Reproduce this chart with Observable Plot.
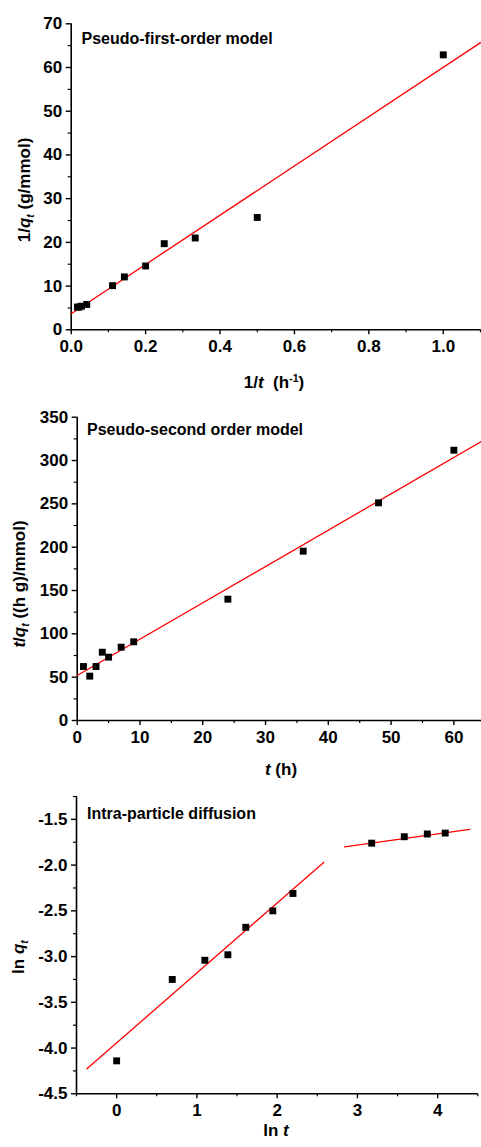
<!DOCTYPE html>
<html><head><meta charset="utf-8">
<script src="https://cdn.jsdelivr.net/npm/d3@7"></script>
<script src="https://cdn.jsdelivr.net/npm/@observablehq/plot@0.6"></script>
<style>
html,body{margin:0;padding:0;background:#fff;}
#chart{width:481px;}
#chart svg{display:block;}
</style></head><body><div id="chart"></div>
<script>
// ---------- Panel 1: Pseudo-first-order ----------
const p1Title = "Pseudo-first-order model";
const p1InvT = [1.0, 0.5, 0.3333, 0.25, 0.2, 0.1429, 0.1111, 0.0417, 0.0278, 0.0208, 0.0167];
const p1InvQ = [62.9, 25.7, 21.0, 19.7, 14.6, 12.1, 10.1, 5.8, 5.4, 5.2, 5.2];
const p1FitX = [0, 1.1];
const p1FitY = [3.66, 65.7];
const p1XMajor = [0, 0.2, 0.4, 0.6, 0.8, 1.0];
const p1XMinor = [0.1, 0.3, 0.5, 0.7, 0.9, 1.1];
const p1YMajor = [0, 10, 20, 30, 40, 50, 60, 70];
const p1YMinor = [5, 15, 25, 35, 45, 55, 65];

// ---------- Panel 2: Pseudo-second order ----------
const p2Title = "Pseudo-second order model";
const p2T = [1, 2, 3, 4, 5, 7, 9, 24, 36, 48, 60];
const p2TQ = [62.3, 51.2, 62.3, 78.8, 73.1, 84.6, 90.8, 140, 195.4, 251.2, 311.9];
const p2FitX = [0, 64.4];
const p2FitY = [51.9, 322];
const p2XMajor = [0, 10, 20, 30, 40, 50, 60];
const p2XMinor = [5, 15, 25, 35, 45, 55];
const p2YMajor = [0, 50, 100, 150, 200, 250, 300, 350];
const p2YMinor = [25, 75, 125, 175, 225, 275, 325];

// ---------- Panel 3: Intra-particle diffusion ----------
const p3Title = "Intra-particle diffusion";
const p3LnT = [0, 0.693, 1.099, 1.386, 1.609, 1.946, 2.197, 3.178, 3.584, 3.871, 4.094];
const p3LnQ = [-4.14, -3.25, -3.04, -2.98, -2.68, -2.50, -2.31, -1.76, -1.69, -1.66, -1.65];
const p3FitSeg = ["first", "first", "second", "second"];
const p3FitX = [-0.37, 2.58, 2.84, 4.40];
const p3FitY = [-4.226, -1.971, -1.80, -1.61];
const p3XMajor = [0, 1, 2, 3, 4];
const p3XMinor = [-0.5, 0.5, 1.5, 2.5, 3.5, 4.5];
const p3YMajor = [-4.5, -4.0, -3.5, -3.0, -2.5, -2.0, -1.5];
const p3YMinor = [-4.25, -3.75, -3.25, -2.75, -2.25, -1.75, -1.25];

const FONT = "'Liberation Sans', Arial, Helvetica, sans-serif";

function richText(svg, parts, {x, y, rotate = 0, anchor = "middle", size = 17}) {
  const g = d3.select(svg).append("g")
    .attr("transform", `translate(${x},${y}) rotate(${rotate})`);
  const t = g.append("text")
    .attr("text-anchor", anchor)
    .attr("font-family", FONT)
    .attr("font-weight", "bold")
    .attr("font-size", size)
    .attr("fill", "black");
  let shift = 0;
  for (const p of parts) {
    const s = t.append("tspan").text(p.t);
    if (p.it) s.attr("font-style", "italic");
    let target = p.sub ? 4 : p.sup ? -6 : 0;
    if (target !== shift) { s.attr("dy", target - shift); shift = target; }
    if (p.sub || p.sup) s.attr("font-size", size * 0.62);
  }
}

function panel(o) {
  const pts = o.xs.map((x, i) => ({x, y: o.ys[i]}));
  const fit = o.fitX.map((x, i) => ({x, y: o.fitY[i], z: o.fitZ ? o.fitZ[i] : "a"}));
  const svg = Plot.plot({
    width: 481,
    height: o.height,
    marginTop: o.mt, marginBottom: o.mb, marginLeft: o.ml, marginRight: o.mr,
    style: {fontFamily: FONT, fontSize: "17px", fontWeight: "bold", color: "black", background: "white", overflow: "visible"},
    x: {domain: o.xDomain},
    y: {domain: o.yDomain},
    marks: [
      Plot.axisX(o.xMajor, {tickSize: 5, tickPadding: 5, tickFormat: o.xFmt, label: null, strokeWidth: 1.4}),
      Plot.axisX(o.xMinor, {tickSize: 3, tickFormat: () => "", label: null, strokeWidth: 1.2}),
      Plot.axisY(o.yMajor, {tickSize: 5, tickPadding: 4, tickFormat: o.yFmt, label: null, strokeWidth: 1.4}),
      Plot.axisY(o.yMinor, {tickSize: 3, tickFormat: () => "", label: null, strokeWidth: 1.2}),
      Plot.ruleX([o.xDomain[0]], {stroke: "black", strokeWidth: 1.6}),
      Plot.ruleY([o.yDomain[0]], {stroke: "black", strokeWidth: 1.6}),
      Plot.line(fit, {x: "x", y: "y", z: "z", stroke: "#ff0000", strokeWidth: 1.3}),
      Plot.dot(pts, {x: "x", y: "y", symbol: "square", r: 3.9, fill: "black", stroke: null})
    ]
  });
  // title
  d3.select(svg).append("text")
    .attr("x", o.titlePos[0]).attr("y", o.titlePos[1])
    .attr("text-anchor", "start")
    .attr("font-family", FONT).attr("font-weight", "bold").attr("font-size", 16)
    .attr("fill", "black").text(o.title);
  richText(svg, o.yLabel, {x: o.yLabelPos[0], y: o.yLabelPos[1], rotate: -90});
  richText(svg, o.xLabel, {x: o.xLabelPos[0], y: o.xLabelPos[1]});
  document.getElementById("chart").appendChild(svg);
}

const f1 = d => d.toFixed(1);

panel({
  height: 395, mt: 23.3, mb: 65.7, ml: 70.7, mr: 1,
  xDomain: [0, 1.1], yDomain: [0, 70],
  xs: p1InvT, ys: p1InvQ, fitX: p1FitX, fitY: p1FitY,
  xMajor: p1XMajor, xMinor: p1XMinor, yMajor: p1YMajor, yMinor: p1YMinor,
  xFmt: f1, yFmt: d => String(d),
  title: p1Title, titlePos: [81.5, 43.5],
  yLabel: [{t: "1/"}, {t: "q", it: true}, {t: "t", it: true, sub: true}, {t: " (g/mmol)"}],
  yLabelPos: [30, 190],
  xLabel: [{t: "1/"}, {t: "t", it: true}, {t: "  (h"}, {t: "-1", sup: true}, {t: ")"}],
  xLabelPos: [274, 388]
});

panel({
  height: 385, mt: 21.7, mb: 60, ml: 76.7, mr: 0,
  xDomain: [0, 64.4], yDomain: [0, 350],
  xs: p2T, ys: p2TQ, fitX: p2FitX, fitY: p2FitY,
  xMajor: p2XMajor, xMinor: p2XMinor, yMajor: p2YMajor, yMinor: p2YMinor,
  xFmt: d => String(d), yFmt: d => String(d),
  title: p2Title, titlePos: [87, 40],
  yLabel: [{t: "t", it: true}, {t: "/"}, {t: "q", it: true}, {t: "t", it: true, sub: true}, {t: " ((h g)/mmol)"}],
  yLabelPos: [25, 189],
  xLabel: [{t: "t", it: true}, {t: " (h)"}],
  xLabelPos: [281, 380]
});

panel({
  height: 367, mt: 16, mb: 53.7, ml: 76, mr: 3.7,
  xDomain: [-0.5, 4.5], yDomain: [-4.5, -1.25],
  xs: p3LnT, ys: p3LnQ, fitX: p3FitX, fitY: p3FitY, fitZ: p3FitSeg,
  xMajor: p3XMajor, xMinor: p3XMinor, yMajor: p3YMajor, yMinor: p3YMinor,
  xFmt: d => String(d), yFmt: f1,
  title: p3Title, titlePos: [87, 39],
  yLabel: [{t: "ln "}, {t: "q", it: true}, {t: "t", it: true, sub: true}],
  yLabelPos: [24, 177],
  xLabel: [{t: "ln "}, {t: "t", it: true}],
  xLabelPos: [276, 356]
});
</script></body></html>
